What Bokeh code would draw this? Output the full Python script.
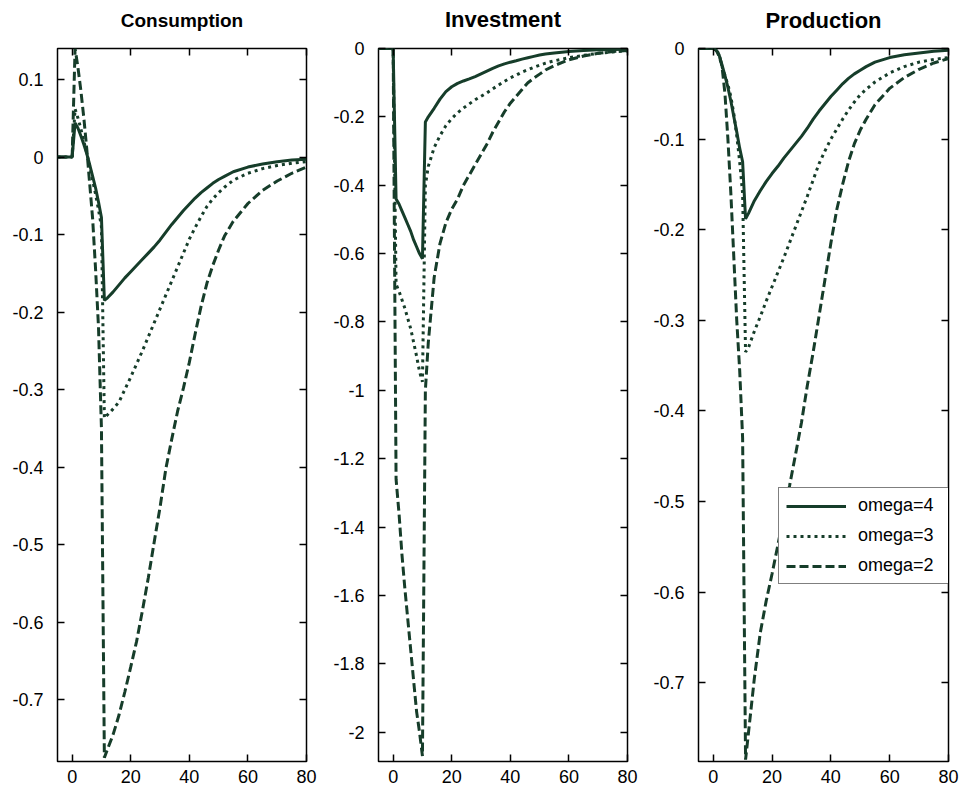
from bokeh.plotting import figure
from bokeh.models import Range1d, FixedTicker, LinearAxis, Legend, LegendItem, CustomJSTickFormatter
from bokeh.layouts import row
from bokeh.embed import file_html
from bokeh.resources import INLINE

# ---------------- data ----------------
T = [-5, 0, 1, 2, 3, 4, 5, 6, 7, 8, 9, 10, 11, 12,
     14, 16, 18, 20, 22, 24, 26, 28, 30, 32, 34, 36, 38, 40, 42, 44, 46, 48, 50, 52,
     55, 60, 65, 70, 75, 80]

# Consumption
C_OMEGA4 = [0, 0, 0.044, 0.037, 0.027, 0.016, 0.004, -0.010, -0.025, -0.040, -0.058, -0.078, -0.185, -0.182,
            -0.174, -0.165, -0.156, -0.148, -0.140, -0.132, -0.124, -0.116, -0.107, -0.097, -0.087, -0.078,
            -0.069, -0.061, -0.053, -0.046, -0.040, -0.034, -0.029, -0.025,
            -0.019, -0.013, -0.009, -0.006, -0.004, -0.003]
C_OMEGA3 = [0, 0, 0.062, 0.050, 0.036, 0.020, 0.005, -0.012, -0.030, -0.048, -0.068, -0.090, -0.337, -0.333,
            -0.325, -0.316, -0.300, -0.284, -0.267, -0.250, -0.232, -0.214, -0.196, -0.178, -0.160, -0.142,
            -0.124, -0.106, -0.091, -0.077, -0.064, -0.054, -0.046, -0.039,
            -0.030, -0.021, -0.015, -0.011, -0.008, -0.006]
C_OMEGA2 = [0, 0, 0.140, 0.115, 0.085, 0.050, 0.010, -0.035, -0.080, -0.145, -0.220, -0.350, -0.775, -0.765,
            -0.745, -0.720, -0.690, -0.658, -0.625, -0.585, -0.543, -0.497, -0.452, -0.402, -0.364, -0.328,
            -0.298, -0.265, -0.228, -0.193, -0.163, -0.140, -0.120, -0.102,
            -0.083, -0.060, -0.043, -0.031, -0.021, -0.013]

# Investment
I_OMEGA4 = [0, 0, -0.440, -0.455, -0.475, -0.495, -0.515, -0.535, -0.560, -0.580, -0.600, -0.615, -0.215, -0.200,
            -0.175, -0.148, -0.126, -0.112, -0.102, -0.095, -0.089, -0.082, -0.074, -0.066, -0.058, -0.051,
            -0.045, -0.040, -0.036, -0.031, -0.027, -0.023, -0.019, -0.016,
            -0.013, -0.009, -0.006, -0.004, -0.003, -0.002]
I_OMEGA3 = [0, 0, -0.690, -0.710, -0.735, -0.760, -0.790, -0.820, -0.860, -0.900, -0.945, -0.975, -0.400, -0.345,
            -0.290, -0.255, -0.226, -0.205, -0.188, -0.174, -0.162, -0.150, -0.140, -0.130, -0.118, -0.107,
            -0.096, -0.086, -0.078, -0.069, -0.062, -0.055, -0.049, -0.043,
            -0.036, -0.027, -0.020, -0.014, -0.010, -0.007]
I_OMEGA2 = [0, 0, -1.26, -1.36, -1.48, -1.58, -1.67, -1.76, -1.85, -1.94, -2.00, -2.07, -1.00, -0.86,
            -0.67, -0.57, -0.51, -0.47, -0.44, -0.40, -0.37, -0.34, -0.31, -0.28, -0.245, -0.215,
            -0.185, -0.160, -0.140, -0.120, -0.100, -0.087, -0.075, -0.063,
            -0.050, -0.033, -0.022, -0.014, -0.009, -0.006]

# Production
P_OMEGA4 = [0, 0, -0.002, -0.007, -0.018, -0.030, -0.043, -0.058, -0.075, -0.092, -0.110, -0.125, -0.188, -0.182,
            -0.168, -0.157, -0.147, -0.138, -0.130, -0.121, -0.113, -0.105, -0.097, -0.088, -0.078, -0.069,
            -0.061, -0.053, -0.046, -0.039, -0.033, -0.028, -0.024, -0.020,
            -0.015, -0.010, -0.007, -0.005, -0.003, -0.002]
P_OMEGA3 = [0, 0, -0.002, -0.008, -0.020, -0.030, -0.040, -0.053, -0.072, -0.096, -0.125, -0.160, -0.335, -0.330,
            -0.312, -0.296, -0.279, -0.263, -0.247, -0.231, -0.214, -0.197, -0.180, -0.163, -0.145, -0.127,
            -0.113, -0.100, -0.089, -0.078, -0.068, -0.059, -0.051, -0.045,
            -0.037, -0.027, -0.020, -0.015, -0.012, -0.010]
P_OMEGA2 = [0, 0, -0.002, -0.006, -0.020, -0.050, -0.100, -0.160, -0.230, -0.300, -0.355, -0.430, -0.785, -0.755,
            -0.695, -0.645, -0.610, -0.580, -0.548, -0.515, -0.482, -0.448, -0.413, -0.372, -0.335, -0.295,
            -0.255, -0.215, -0.178, -0.150, -0.125, -0.105, -0.090, -0.078,
            -0.062, -0.044, -0.032, -0.023, -0.016, -0.011]

TITLES = ["Consumption", "Investment", "Production"]
LABELS = ["omega=4", "omega=3", "omega=2"]
X_TICKS = [0, 20, 40, 60, 80]
Y_TICKS_C = [-0.7, -0.6, -0.5, -0.4, -0.3, -0.2, -0.1, 0, 0.1]
Y_TICKS_I = [-2, -1.8, -1.6, -1.4, -1.2, -1, -0.8, -0.6, -0.4, -0.2, 0]
Y_TICKS_P = [-0.7, -0.6, -0.5, -0.4, -0.3, -0.2, -0.1, 0]

# ---------------- style ----------------
COLOR = "#163d2a"
FONT = "Liberation Sans"
DASHES = ["solid", "3 4", "9 4"]
H = 791

fmt = CustomJSTickFormatter(code="return String(Math.round(tick*1000)/1000);")


def style_axis(ax, ticks, show_labels, standoff):
    ax.ticker = FixedTicker(ticks=ticks)
    ax.axis_line_color = None
    ax.major_tick_in = 7
    ax.major_tick_out = 0
    ax.major_tick_line_width = 1.5
    ax.major_tick_line_color = "black"
    ax.minor_tick_line_color = None
    ax.formatter = fmt
    ax.major_label_text_font = FONT
    ax.major_label_standoff = standoff
    if show_labels:
        ax.major_label_text_font_size = "18px"
        ax.major_label_text_color = "black"
    else:
        ax.major_label_text_font_size = "1px"
        ax.major_label_text_color = None


def panel(title, series, yr, yticks, width, bl, br, bt, frame_h, tsize, top_gap, legend_loc=None):
    p = figure(width=width, height=H, x_range=Range1d(-5, 80), y_range=Range1d(*yr),
               output_backend="svg", toolbar_location=None,
               min_border_left=bl, min_border_right=br, min_border_top=bt,
               min_border_bottom=H - bt - frame_h)
    p.title.text = title
    p.title.text_font = FONT
    p.title.text_font_size = tsize
    p.title.text_font_style = "bold"
    p.title.text_color = "black"
    p.title.align = "center"
    p.title.standoff = 6
    p.xgrid.visible = False
    p.ygrid.visible = False
    p.outline_line_color = "black"
    p.outline_line_width = 1.5
    p.background_fill_color = "white"
    p.border_fill_color = "white"

    right_ax = LinearAxis()
    top_ax = LinearAxis()
    p.add_layout(right_ax, "right")
    p.add_layout(top_ax, "above")
    style_axis(p.below[0], X_TICKS, True, 8)
    style_axis(p.left[0], yticks, True, 14)
    style_axis(right_ax, yticks, False, 0)
    style_axis(top_ax, X_TICKS, False, 0)

    # invisible spacer between the frame and the title
    spacer = LinearAxis()
    style_axis(spacer, X_TICKS, False, 0)
    spacer.major_tick_in = 0
    spacer.major_tick_out = top_gap
    spacer.major_tick_line_color = None
    p.add_layout(spacer, "above")

    rs = {}
    for i in (2, 1, 0):
        rs[i] = p.line(T, series[i], line_color=COLOR, line_width=3, line_dash=DASHES[i])

    if legend_loc is not None:
        leg = Legend(items=[LegendItem(label=LABELS[i], renderers=[rs[i]]) for i in range(3)],
                     location=legend_loc)
        leg.label_text_font = FONT
        leg.label_text_font_size = "18px"
        leg.label_text_color = "black"
        leg.glyph_width = 60
        leg.glyph_height = 20
        leg.label_height = 20
        leg.label_standoff = 12
        leg.label_width = 84
        leg.padding = 7
        leg.spacing = 9
        leg.margin = 0
        leg.border_line_color = "black"
        leg.border_line_width = 1.5
        leg.background_fill_color = "white"
        leg.background_fill_alpha = 1
        p.add_layout(leg)
    return p


p1 = panel(TITLES[0], [C_OMEGA4, C_OMEGA3, C_OMEGA2], (-0.78, 0.14), Y_TICKS_C,
           318, 57, 12, 45, 716, "19px", 15)
p2 = panel(TITLES[1], [I_OMEGA4, I_OMEGA3, I_OMEGA2], (-2.086, 0.0), Y_TICKS_I,
           321, 60, 12, 48, 713, "22px", 14)
p3 = panel(TITLES[2], [P_OMEGA4, P_OMEGA3, P_OMEGA2], (-0.787, 0.0), Y_TICKS_P,
           322, 59, 13, 46, 715, "22px", 13, legend_loc=(80, 177))

layout = row(p1, p2, p3)
open("out.html", "w").write(file_html(layout, INLINE))
